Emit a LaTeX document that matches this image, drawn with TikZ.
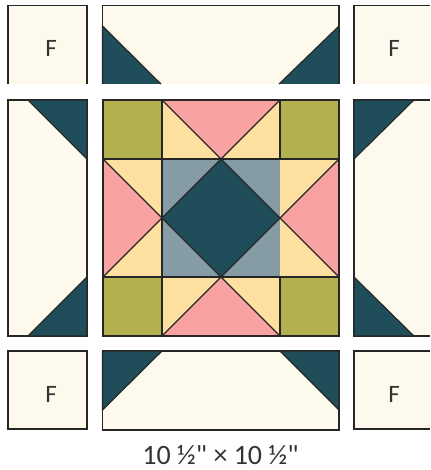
\documentclass[tikz,border=0pt]{standalone}
\usepackage{fontspec}
\setmainfont{Carlito}
\newfontfamily\capfont{Carlito}
\definecolor{cream}{HTML}{FDF9EC}
\definecolor{teal}{HTML}{1F4E5A}
\definecolor{olive}{HTML}{B2B04F}
\definecolor{pinkq}{HTML}{F8A2A2}
\definecolor{yel}{HTML}{FDE0A0}
\definecolor{greyb}{HTML}{869CA4}
\tikzset{x=1pt,y=-1pt,
 ol/.style={draw=black!85,line width=1.1pt,line join=miter},
 panel/.style={fill=cream},
 dk/.style={fill=teal},
 lab/.style={font=\fontsize{25}{28}\selectfont,text=black!80}}
\begin{document}
\begin{tikzpicture}
\useasboundingbox (0,0) rectangle (430,470);
% corner squares
\fill[panel] (8,5.5) rectangle (87,84);
\draw[ol] (8,84)--(8,5.5)--(87,5.5)--(87,84);
\fill[panel] (354,5.5) rectangle (430,84);
\draw[ol] (354,84)--(354,5.5)--(430,5.5);
\draw[ol,panel] (8,351)rectangle(87,429);
\fill[panel] (354,351) rectangle (430,429);
\draw[ol] (430,351)--(354,351)--(354,429)--(430,429);
\node[lab] (f1) at (51,48) {F};
\node[lab] (f2) at (394,48) {F};
\node[lab] (f3) at (51,394) {F};
\node[lab] (f4) at (394,394) {F};
% top
\fill[panel] (102.5,5.5) rectangle (339,84);
\draw[ol] (102.5,84)--(102.5,5.5)--(339,5.5)--(339,84);
\fill[dk] (102.5,26)--(161,84)--(102.5,84)--cycle;
\fill[dk] (339,26)--(279,84)--(339,84)--cycle;
\draw[ol] (102.5,84)--(102.5,26)--(161,84) (339,84)--(339,26)--(279,84);
% bottom
\draw[ol,panel] (102.5,351)rectangle(339,430);
\fill[dk] (102.5,351)--(162,351)--(102.5,410)--cycle;
\fill[dk] (339,351)--(280,351)--(339,410)--cycle;
\draw[ol] (102.5,351)--(162,351)--(102.5,410)--cycle (339,351)--(280,351)--(339,410)--cycle;
% left
\draw[ol,panel] (8,100)rectangle(87,336);
\fill[dk] (28,100)--(87,100)--(87,159)--cycle;
\fill[dk] (87,277)--(87,336)--(28,336)--cycle;
\draw[ol] (28,100)--(87,100)--(87,159)--cycle (87,277)--(87,336)--(28,336)--cycle;
% right
\fill[panel] (354,100) rectangle (430,336);
\draw[ol] (430,100)--(354,100)--(354,336)--(430,336);
\fill[dk] (354,100)--(414,100)--(354,159)--cycle;
\fill[dk] (354,277)--(354,336)--(414,336)--cycle;
\draw[ol] (354,100)--(414,100)--(354,159)--cycle (354,277)--(354,336)--(414,336)--cycle;
% centre
\fill[olive] (103,100)rectangle(162,159) (280,100)rectangle(339,159) (103,277)rectangle(162,336) (280,277)rectangle(339,336);
\fill[yel] (162,100)rectangle(280,159) (162,277)rectangle(280,336) (103,159)rectangle(162,277) (280,159)rectangle(339,277);
\fill[pinkq] (162,100)--(280,100)--(221,159)--cycle (162,336)--(280,336)--(221,277)--cycle (103,159)--(162,218)--(103,277)--cycle (339,159)--(280,218)--(339,277)--cycle;
\fill[greyb] (162,159)rectangle(280,277);
\fill[teal] (221,159)--(280,218)--(221,277)--(162,218)--cycle;
\draw[ol] (103,100)rectangle(339,336);
\draw[ol] (162,99)--(162,337) (280,100)--(280,159) (280,277)--(280,336) (103,159)--(339,159) (103,277)--(339,277);
\draw[ol] (162,100)--(339,277) (280,100)--(103,277) (103,159)--(280,336) (339,159)--(162,336);
\node[font=\capfont\fontsize{28}{30}\selectfont,text=black!80,inner sep=0pt] (cap) at (220.5,455) {10 ½" × 10 ½"};
\end{tikzpicture}
\end{document}
